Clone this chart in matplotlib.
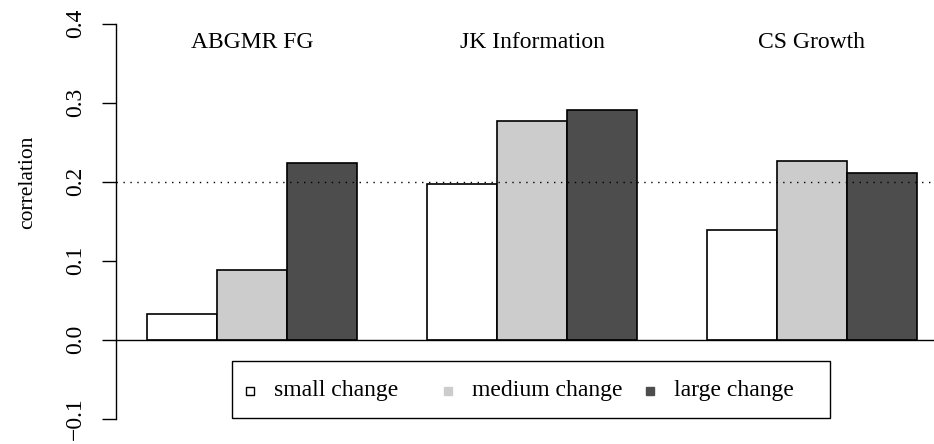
import matplotlib.pyplot as plt
from matplotlib.patches import Rectangle

plt.rcParams['font.family'] = ['Liberation Serif', 'DejaVu Serif']

groups = ['ABGMR FG', 'JK Information', 'CS Growth']
changes = ['small change', 'medium change', 'large change']
small = [0.032, 0.197, 0.138]
medium = [0.088, 0.277, 0.226]
large = [0.224, 0.291, 0.211]
colors = ['white', '#cccccc', '#4d4d4d']
ticks = [-0.1, 0.0, 0.1, 0.2, 0.3, 0.4]
tick_labels = ['\u22120.1', '0.0', '0.1', '0.2', '0.3', '0.4']

W, H = 934, 444
fig = plt.figure(figsize=(W / 100, H / 100), dpi=100)

# plot region runs a little past the right edge of the figure
x0, x1 = 116.2, 947.8
y0, y1 = 7.7, 434.3
ax = fig.add_axes([x0 / W, 1 - y1 / H, (x1 - x0) / W, (y1 - y0) / H])

series = [small, medium, large]
for j, vals in enumerate(series):
    lefts = [1 + 4 * i + j for i in range(len(groups))]
    ax.bar(lefts, vals, width=1, align='edge', color=colors[j],
           edgecolor='black', linewidth=1.2, zorder=2)

ax.axhline(0, color='black', linewidth=1.0, zorder=3)
ax.axhline(0.2, color='black', linewidth=1.0, linestyle=(0, (1, 4)), zorder=4)

for i, g in enumerate(groups):
    ax.text(2.5 + 4 * i, 0.369, g, ha='center', va='baseline', fontsize=17)

ax.set_xlim(0.56, 12.44)
ax.set_ylim(-0.12, 0.42)
ax.set_xticks([])
ax.set_yticks(ticks)
ax.set_yticklabels(tick_labels, rotation=90, va='center', fontsize=17)
ax.tick_params(axis='y', length=10, width=1.0, pad=12)
for s in ['top', 'right', 'bottom']:
    ax.spines[s].set_visible(False)
ax.spines['left'].set_bounds(-0.1, 0.4)
ax.spines['left'].set_linewidth(1.0)

fig.text(28 / W, 1 - 182.5 / H, 'correlation', rotation=90,
         ha='center', va='center', fontsize=15.5)

# legend box
fig.patches.append(Rectangle((232 / W, 1 - 418 / H), (830 - 232) / W, (418 - 361) / H,
                             transform=fig.transFigure, facecolor='white',
                             edgecolor='black', linewidth=1.0, zorder=5))
sq_x = [250, 448, 650]
for k, lab in enumerate(changes):
    fig.patches.append(Rectangle(((sq_x[k] - 4) / W, 1 - 395 / H), 8 / W, 8 / H,
                                 transform=fig.transFigure, facecolor=colors[k],
                                 edgecolor='black' if k == 0 else colors[k],
                                 linewidth=1.0, zorder=6))
    fig.text((sq_x[k] + 24) / W, 1 - 390 / H, lab, ha='left', va='center',
             fontsize=17, zorder=7)

fig.savefig('out.png', dpi=100)
